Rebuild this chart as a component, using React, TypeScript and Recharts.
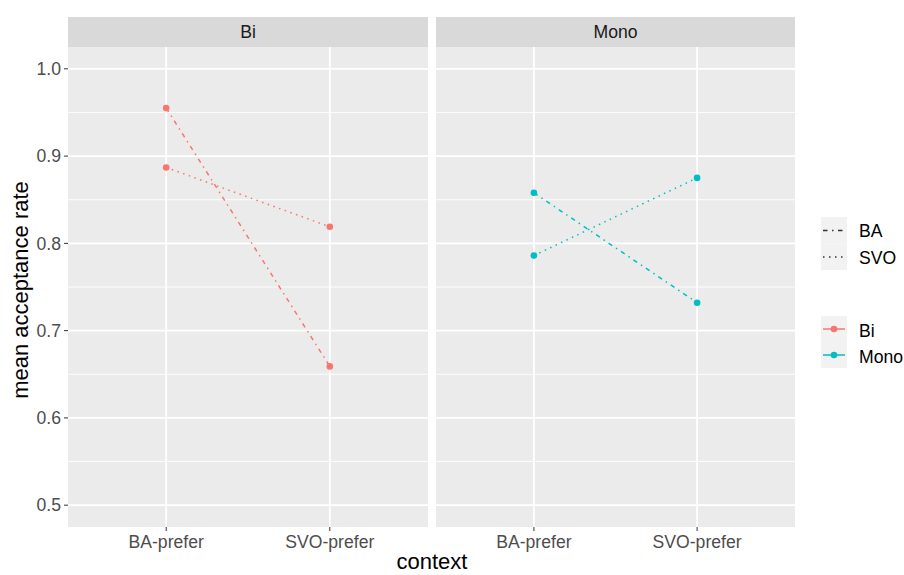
import React from "react";
import { LineChart, Line, XAxis, YAxis, CartesianGrid, ReferenceLine } from "recharts";

const contexts = ["BA-prefer", "SVO-prefer"];
const groups = ["Bi", "Mono"];
const groupColors = ["#F8766D", "#00BFC4"];

// mean acceptance per context, one array per construction
const biBA = [0.955, 0.659];
const biSVO = [0.887, 0.819];
const monoBA = [0.858, 0.732];
const monoSVO = [0.786, 0.875];

const yTicks = [0.5, 0.6, 0.7, 0.8, 0.9, 1.0];
const yMinor = [0.55, 0.65, 0.75, 0.85, 0.95];
const yDomain: [number, number] = [0.475, 1.025];
const xDomain: [number, number] = [0.4, 2.6];

const FONT = "'Liberation Sans', Arial, Helvetica, sans-serif";
const SMALL = 17.6;
const TITLE = 22;
const DOTDASH = "4.5 4.5 1.5 4.5";
const DOTTED = "1.5 4.5";

function buildRows(ba: number[], svo: number[]) {
  return contexts.map((c, i) => ({ pos: i + 1, context: c, BA: ba[i], SVO: svo[i] }));
}

interface PanelProps {
  rows: { pos: number; BA: number; SVO: number }[];
  color: string;
  showY: boolean;
  width: number;
}

function Panel({ rows, color, showY, width }: PanelProps) {
  return (
    <LineChart
      width={width}
      height={575}
      data={rows}
      margin={{ top: 47, right: 0, bottom: 18, left: 0 }}
    >
      <CartesianGrid fill="#EBEBEB" horizontal={false} vertical={false} stroke="none" />
      {yMinor.map(v => (
        <ReferenceLine key={"mn" + v} y={v} stroke="#FFFFFF" strokeWidth={0.9} />
      ))}
      {yTicks.map(v => (
        <ReferenceLine key={"mj" + v} y={v} stroke="#FFFFFF" strokeWidth={1.8} />
      ))}
      {rows.map(r => (
        <ReferenceLine key={"vx" + r.pos} x={r.pos} stroke="#FFFFFF" strokeWidth={1.8} />
      ))}
      <XAxis
        type="number"
        dataKey="pos"
        domain={xDomain}
        ticks={[1, 2]}
        allowDataOverflow
        interval={0}
        tickFormatter={(v: number) => contexts[v - 1]}
        axisLine={false}
        tickLine={{ stroke: "#333333", strokeWidth: 1 }}
        tickSize={4}
        tickMargin={5}
        height={30}
        tick={{ fill: "#4D4D4D", fontSize: SMALL, fontFamily: FONT }}
      />
      <YAxis
        hide={!showY}
        type="number"
        domain={yDomain}
        ticks={yTicks}
        allowDataOverflow
        width={showY ? 68 : 0}
        tickFormatter={(v: number) => v.toFixed(1)}
        axisLine={false}
        tickLine={{ stroke: "#333333", strokeWidth: 1 }}
        tickSize={4}
        tickMargin={3}
        tick={{ fill: "#4D4D4D", fontSize: SMALL, fontFamily: FONT }}
      />
      <Line
        type="linear"
        dataKey="BA"
        stroke={color}
        strokeWidth={1.5}
        strokeDasharray={DOTDASH}
        dot={{ r: 3.3, fill: color, stroke: "none" }}
        activeDot={false}
        isAnimationActive={false}
      />
      <Line
        type="linear"
        dataKey="SVO"
        stroke={color}
        strokeWidth={1.5}
        strokeDasharray={DOTTED}
        dot={{ r: 3.3, fill: color, stroke: "none" }}
        activeDot={false}
        isAnimationActive={false}
      />
    </LineChart>
  );
}

function Strip({ left, width, label }: { left: number; width: number; label: string }) {
  return (
    <div
      style={{
        position: "absolute",
        left,
        top: 17,
        width,
        height: 30,
        background: "#D9D9D9",
        color: "#1A1A1A",
        fontFamily: FONT,
        fontSize: SMALL,
        lineHeight: "31px",
        textAlign: "center",
      }}
    >
      {label}
    </div>
  );
}

export default function App() {
  const biRows = buildRows(biBA, biSVO);
  const monoRows = buildRows(monoBA, monoSVO);
  const lineTypes = [
    { name: "BA", dash: DOTDASH },
    { name: "SVO", dash: DOTTED },
  ];

  return (
    <div style={{ position: "absolute", left: 0, top: 0, width: 904, height: 575, background: "#FFFFFF", overflow: "hidden" }}>
      <div style={{ position: "absolute", left: 0, top: 0 }}>
        <Panel rows={biRows} color={groupColors[0]} showY width={428} />
      </div>
      <div style={{ position: "absolute", left: 436, top: 0 }}>
        <Panel rows={monoRows} color={groupColors[1]} showY={false} width={359} />
      </div>
      <Strip left={68} width={360} label={groups[0]} />
      <Strip left={436} width={359} label={groups[1]} />

      <svg
        width={904}
        height={575}
        style={{ position: "absolute", left: 0, top: 0, pointerEvents: "none" }}
        fontFamily={FONT}
      >
        <text
          x={0}
          y={0}
          transform="translate(28 290) rotate(-90)"
          textAnchor="middle"
          fontSize={TITLE}
          fill="#000000"
        >
          mean acceptance rate
        </text>
        <text x={432} y={569} textAnchor="middle" fontSize={TITLE} fill="#000000">
          context
        </text>

        {/* linetype legend */}
        {lineTypes.map((lt, i) => (
          <g key={lt.name} transform={`translate(821 ${217 + i * 26.5})`}>
            <rect width={26} height={26.5} fill="#F2F2F2" />
            <line x1={2} x2={24} y1={13.5} y2={13.5} stroke="#333333" strokeWidth={1.5} strokeDasharray={lt.dash} />
            <text x={38} y={20} fontSize={SMALL} fill="#000000">
              {lt.name}
            </text>
          </g>
        ))}

        {/* group colour legend */}
        {groups.map((g, i) => (
          <g key={g} transform={`translate(821 ${316 + i * 26})`}>
            <rect width={26} height={26} fill="#F2F2F2" />
            <line x1={2} x2={24} y1={13} y2={13} stroke={groupColors[i]} strokeWidth={1.5} />
            <circle cx={13} cy={13} r={3.3} fill={groupColors[i]} />
            <text x={38} y={20.5} fontSize={SMALL} fill="#000000">
              {g}
            </text>
          </g>
        ))}
      </svg>
    </div>
  );
}
